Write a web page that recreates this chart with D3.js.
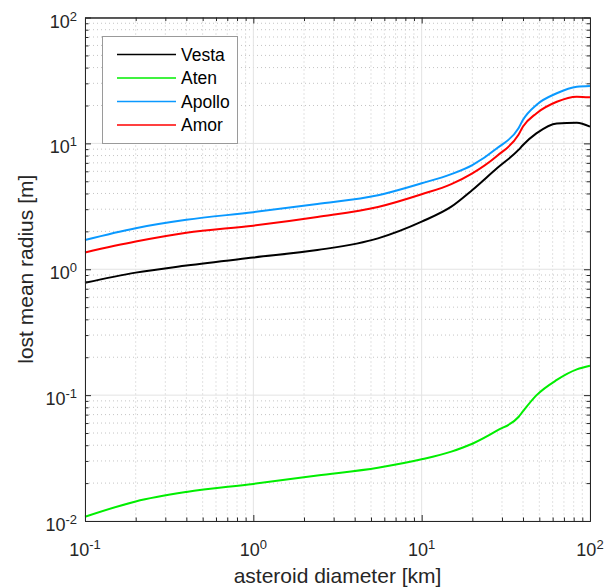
<!DOCTYPE html>
<html>
<head>
<meta charset="utf-8">
<script src="https://cdn.jsdelivr.net/npm/d3@7"></script>
<style>
  body { margin: 0; background: #fff; }
  svg { display: block; font-family: "Liberation Sans", Arial, sans-serif; }
</style>
</head>
<body>
<svg id="chart" width="607" height="588"></svg>
<script>
// asteroid diameter [km]
const diameter = [0.1, 0.2, 0.4, 1, 2.4, 5.5, 10, 15, 20, 28, 37.6, 40, 48, 63.5, 83.5, 100];

// lost mean radius [m] per family
const vesta  = [0.78, 0.94, 1.07, 1.24, 1.42, 1.76, 2.39, 3.14, 4.26, 6.34, 8.87, 9.71, 12.0, 14.4, 14.6, 13.6];
const aten   = [0.0108, 0.0143, 0.0170, 0.0197, 0.0230, 0.0265, 0.0309, 0.0356, 0.0411, 0.0522, 0.0670, 0.0745, 0.0995, 0.132, 0.160, 0.171];
const apollo = [1.71, 2.12, 2.47, 2.84, 3.30, 3.87, 4.82, 5.70, 6.73, 9.14, 13.2, 15.4, 20.2, 25.0, 28.2, 28.6];
const amor   = [1.36, 1.66, 1.95, 2.22, 2.60, 3.12, 3.94, 4.75, 5.78, 7.94, 11.7, 13.6, 17.3, 21.4, 23.5, 23.2];

const seriesNames = ["Vesta", "Aten", "Apollo", "Amor"];
const seriesValues = [vesta, aten, apollo, amor];
const seriesColors = ["#000000", "#00ee00", "#0a99ff", "#ff0000"];

const xMajorTicks = [0.1, 1, 10, 100];
const xTickExp = ["-1", "0", "1", "2"];
const yMajorTicks = [0.01, 0.1, 1, 10, 100];
const yTickExp = ["-2", "-1", "0", "1", "2"];

const svg = d3.select("#chart");
const margin = { top: 17.5, right: 17, bottom: 67, left: 85 };
const width = +svg.attr("width") - margin.left - margin.right;
const height = +svg.attr("height") - margin.top - margin.bottom;

const x = d3.scaleLog().domain([0.1, 100]).range([0, width]);
const y = d3.scaleLog().domain([0.01, 100]).range([height, 0]);

const g = svg.append("g").attr("transform", `translate(${margin.left},${margin.top})`);

// minor ticks = everything the log scale gives that is not a decade
const isMajor = d => Math.abs(Math.log10(d) - Math.round(Math.log10(d))) < 1e-9;
const xMinor = x.ticks().filter(d => !isMajor(d));
const yMinor = y.ticks().filter(d => !isMajor(d));

// grid
g.append("g").selectAll("line").data(xMinor).enter().append("line")
  .attr("x1", d => x(d)).attr("x2", d => x(d)).attr("y1", 0).attr("y2", height)
  .attr("stroke", "#c4c4c4").attr("stroke-width", 1).attr("stroke-dasharray", "1,3");
g.append("g").selectAll("line").data(yMinor).enter().append("line")
  .attr("y1", d => y(d)).attr("y2", d => y(d)).attr("x1", 0).attr("x2", width)
  .attr("stroke", "#c4c4c4").attr("stroke-width", 1).attr("stroke-dasharray", "1,3");
g.append("g").selectAll("line").data(xMajorTicks).enter().append("line")
  .attr("x1", d => x(d)).attr("x2", d => x(d)).attr("y1", 0).attr("y2", height)
  .attr("stroke", "#e3e3e3").attr("stroke-width", 1);
g.append("g").selectAll("line").data(yMajorTicks).enter().append("line")
  .attr("y1", d => y(d)).attr("y2", d => y(d)).attr("x1", 0).attr("x2", width)
  .attr("stroke", "#e3e3e3").attr("stroke-width", 1);

// curves
const line = d3.line()
  .x(d => x(d[0]))
  .y(d => y(d[1]))
  .curve(d3.curveMonotoneX);

seriesValues.forEach((vals, i) => {
  g.append("path")
    .datum(diameter.map((d, j) => [d, vals[j]]))
    .attr("fill", "none")
    .attr("stroke", seriesColors[i])
    .attr("stroke-width", 2)
    .attr("d", line);
});

// axes: ticks pointing inward on all four sides
function styleAxis(sel) {
  sel.select(".domain").attr("stroke", "#262626").attr("stroke-width", 1);
  sel.selectAll(".tick line").attr("stroke", "#262626");
}
const axes = [
  [d3.axisBottom(x), `translate(0,${height})`, xMajorTicks, xMinor],
  [d3.axisTop(x), "translate(0,0)", xMajorTicks, xMinor],
  [d3.axisLeft(y), "translate(0,0)", yMajorTicks, yMinor],
  [d3.axisRight(y), `translate(${width},0)`, yMajorTicks, yMinor]
];
axes.forEach(([ax, tr, major, minor]) => {
  g.append("g").attr("transform", tr)
    .call(ax.tickValues(major).tickSize(-6).tickSizeOuter(0).tickFormat(""))
    .call(styleAxis);
  g.append("g").attr("transform", tr)
    .call(ax.tickValues(minor).tickSize(-3.5).tickSizeOuter(0).tickFormat(""))
    .call(styleAxis);
});

// tick labels as 10^n
const xLab = g.append("g").selectAll("text").data(xMajorTicks).enter().append("text")
  .attr("x", d => x(d))
  .attr("y", height + 35)
  .attr("text-anchor", "middle")
  .attr("font-size", 18)
  .attr("fill", "#262626");
xLab.append("tspan").text("10");
xLab.append("tspan").attr("dy", -7).attr("font-size", 13).text((d, i) => xTickExp[i]);

const yLab = g.append("g").selectAll("text").data(yMajorTicks).enter().append("text")
  .attr("x", -8)
  .attr("y", d => y(d) + 10)
  .attr("text-anchor", "end")
  .attr("font-size", 18)
  .attr("fill", "#262626");
yLab.append("tspan").text("10");
yLab.append("tspan").attr("dy", -7).attr("font-size", 13).text((d, i) => yTickExp[i]);

// axis titles
svg.append("text")
  .attr("x", margin.left + width / 2)
  .attr("y", 583)
  .attr("text-anchor", "middle")
  .attr("font-size", 21)
  .attr("fill", "#262626")
  .text("asteroid diameter [km]");

svg.append("text")
  .attr("transform", `translate(32.5,${margin.top + height / 2}) rotate(-90)`)
  .attr("text-anchor", "middle")
  .attr("font-size", 21)
  .attr("fill", "#262626")
  .text("lost mean radius [m]");

// legend
const legend = svg.append("g").attr("transform", "translate(102,36)");
legend.append("rect")
  .attr("x", 0.5).attr("y", 0.5)
  .attr("width", 135).attr("height", 107)
  .attr("fill", "#fff")
  .attr("stroke", "#9a9a9a");
seriesNames.forEach((name, i) => {
  const cy = 18.5 + i * 23.5;
  legend.append("line")
    .attr("x1", 15).attr("x2", 74).attr("y1", cy).attr("y2", cy)
    .attr("stroke", seriesColors[i]).attr("stroke-width", 1.5);
  legend.append("text")
    .attr("x", 79).attr("y", cy + 6)
    .attr("font-size", 17.5)
    .attr("fill", "#000")
    .text(name);
});
</script>
</body>
</html>
